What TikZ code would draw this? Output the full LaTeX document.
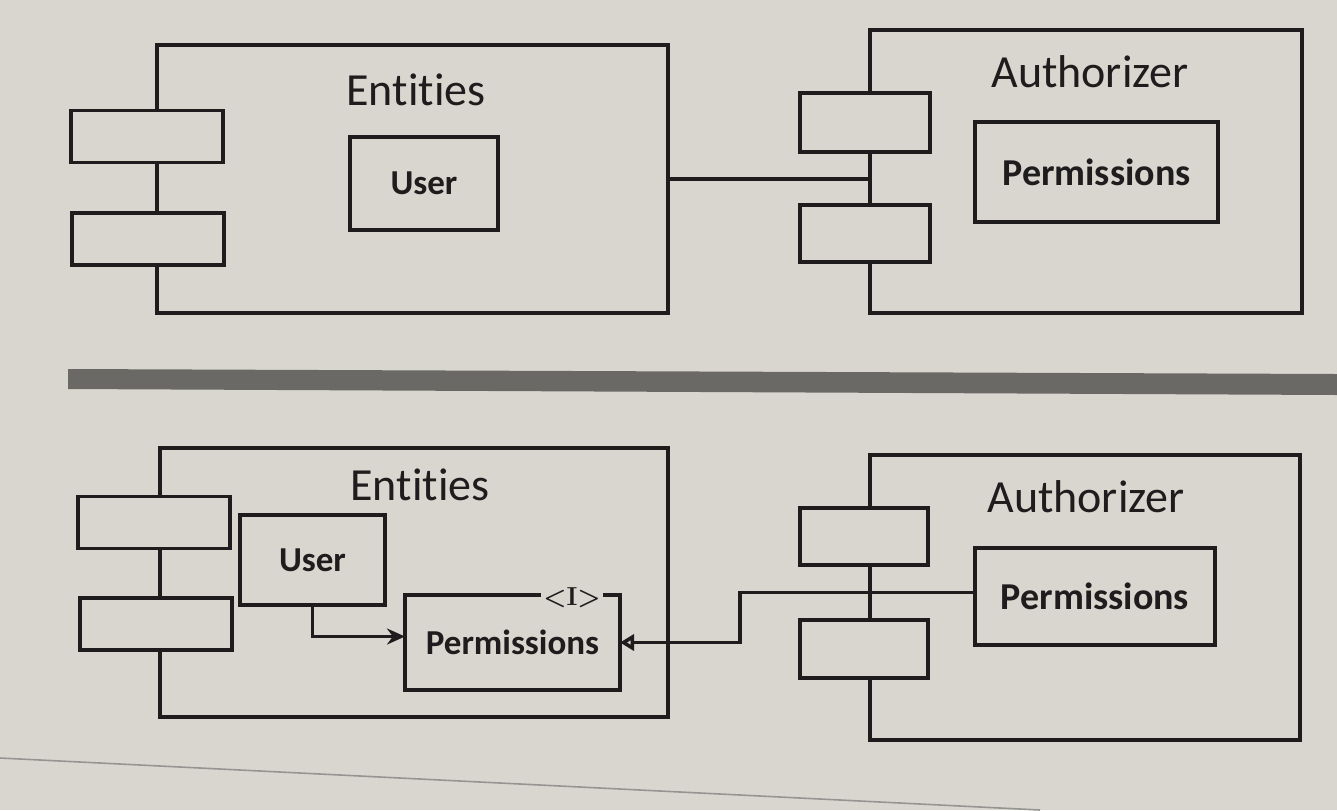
\documentclass[tikz,border=0pt]{standalone}
\usepackage{fontspec}
\setsansfont{Carlito}[Ligatures={NoCommon,NoContextual}]
\usepackage{tikz}
\usetikzlibrary{arrows.meta}

\definecolor{paper}{HTML}{D9D6D0}
\definecolor{ink}{HTML}{1E1C1C}
\definecolor{rule}{HTML}{6B6966}

\begin{document}
\begin{tikzpicture}[x=0.5pt,y=-0.5pt,
	comp/.style={draw=ink,line width=1.8pt,inner sep=0pt,outer sep=0pt},
	port/.style={comp,fill=paper,minimum width=76pt,minimum height=26pt},
	cls/.style={comp,fill=paper,font=\sffamily\bfseries\fontsize{19}{22}\selectfont,text=ink},
	title/.style={font=\sffamily\fontsize{23}{27}\selectfont,text=ink},
	link/.style={draw=ink,line width=1.8pt}]
	\fill[paper] (0,0) rectangle (1337,810);
	\useasboundingbox (0,0) rectangle (1337,810);
	% upper diagram
	\node[comp,minimum width=255.5pt,minimum height=134pt] (entA) at (412.5,179) {};
	\node[title] (entA_t) at (416,90) {Entities};
	\node[port] (entA_p1) at (147,136.5) {};
	\node[port] (entA_p2) at (148,239) {};
	\node[cls,minimum width=74pt,minimum height=46.5pt,font=\sffamily\bfseries\fontsize{17.5}{20}\selectfont] (userA) at (424,183.5) {User};
	\node[comp,minimum width=216pt,minimum height=141.5pt] (autA) at (1086,171.5) {};
	\node[title] (autA_t) at (1090,72) {Authorizer};
	\node[port,minimum width=65pt,minimum height=29.5pt] (autA_p1) at (865,122.5) {};
	\node[port,minimum width=65pt,minimum height=28.5pt] (autA_p2) at (865,233.5) {};
	\node[cls,minimum width=121.5pt,minimum height=50pt] (permA) at (1096.5,172) {Permissions};
	\path[link] (entA.east) -- (entA.east -| autA.west);
	% separator
	\fill[rule] (68,369) -- (1337,374) -- (1337,395) -- (68,389) -- cycle;
	% lower diagram
	\node[comp,minimum width=254pt,minimum height=134.5pt] (entB) at (414,582.5) {};
	\node[title] (entB_t) at (420,485) {Entities};
	\node[port] (entB_p1) at (154,522.5) {};
	\node[port] (entB_p2) at (156,624) {};
	\node[cls,minimum width=72.5pt,minimum height=45pt,font=\sffamily\bfseries\fontsize{17.5}{20}\selectfont] (userB) at (312.5,560) {User};
	\node[cls,minimum width=107.5pt,minimum height=47.5pt,font=\sffamily\bfseries\fontsize{17.5}{20}\selectfont] (permI) at (512.5,642.5) {Permissions};
	\node[fill=paper,inner sep=1pt,font=\rmfamily\bfseries\fontsize{13}{14}\selectfont,text=ink] (permI_s) at (572,598) {<I>};
	\node[comp,minimum width=215pt,minimum height=142.5pt] (autB) at (1085,597.5) {};
	\node[title] (autB_t) at (1086,497) {Authorizer};
	\node[port,minimum width=64pt,minimum height=28.5pt] (autB_p1) at (864,536.5) {};
	\node[port,minimum width=64pt,minimum height=29pt] (autB_p2) at (864,649) {};
	\node[cls,minimum width=120pt,minimum height=48.5pt] (permB) at (1095,596.5) {Permissions};
	\coordinate (jog) at (740,620);
	\path[link,-{Stealth[length=9pt,width=8pt]}] (userB.south) |- ([yshift=3pt]permI.west);
	\path[link,-{Triangle[open,length=7pt,width=8pt]}] ([yshift=2pt]permB.west) -| (jog |- permI.east) -- (permI.east);
	% page edge
	\draw[ink!35!paper,line width=0.8pt] (0,758) -- (1040,810);
\end{tikzpicture}
\end{document}
